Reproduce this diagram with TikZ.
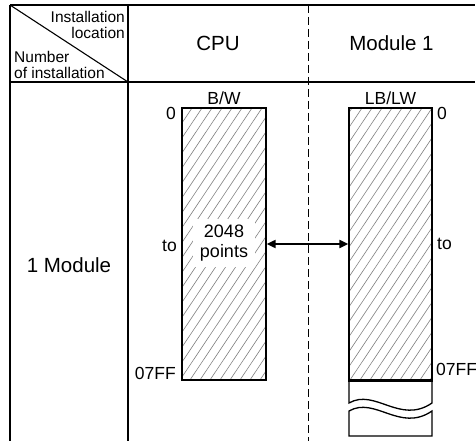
\documentclass[tikz,border=0pt]{standalone}
\usepackage{fontspec}
\setmainfont{Liberation Sans}
\usetikzlibrary{arrows.meta}
\begin{document}
\begin{tikzpicture}[x=1pt,y=-1pt,
  frame/.style={line width=2pt},
  diag/.style={line width=1.1pt},
  divider/.style={line width=1pt,dash pattern=on 8pt off 4pt},
  membox/.style={draw,line width=1.3pt,minimum width=84pt,minimum height=272pt,inner sep=0pt},
  hatch/.style={gray,line width=0.6pt},
  big/.style={inner sep=0pt,font=\fontsize{20.5}{24}\selectfont},
  head/.style={inner sep=0pt,font=\fontsize{15.5}{18}\selectfont},
  lbl/.style={inner sep=0pt,font=\fontsize{17.5}{20}\selectfont},
  dblarrow/.style={line width=2pt,{Triangle[length=9pt,width=8pt]}-{Triangle[length=9pt,width=8pt]}},
  piece/.style={line width=1.3pt}
]
\useasboundingbox (0,0) rectangle (476,441);
% frame
\draw[frame] (10,5) -- (475,5);
\draw[frame] (10,82) -- (475,82);
\draw[frame] (10,5) -- (10,441);
\draw[frame] (128,5) -- (128,441);
\draw[diag] (10,5) -- (128,82);
\draw[divider] (308,5) -- (308,441);
% header texts
\node[head,anchor=base east] (h1) at (125,23) {Installation};
\node[head,anchor=base east] (h2) at (125,39) {location};
\node[head,anchor=base west] (h3) at (14,63) {Number};
\node[head,anchor=base west] (h4) at (14,79) {of installation};
\node[big,anchor=base] (cpuh) at (218,51) {CPU};
\node[big,anchor=base] (modh) at (391.5,51) {Module 1};
\node[big,anchor=base] (rowh) at (69,272) {1 Module};
% memory boxes
\coordinate (cpuc) at (224,244);
\coordinate (modc) at (390.5,244);
\begin{scope}
  \clip (182,108) rectangle (266,380);
  \foreach \x in {-200,-190,...,280} \draw[hatch] (\x,380) -- ++(182,-272);
\end{scope}
\begin{scope}
  \clip (349,108) rectangle (432,380);
  \foreach \x in {-40,-30,...,440} \draw[hatch] (\x,380) -- ++(182,-272);
\end{scope}
\node[membox] (cpu) at (cpuc) {};
\node[membox,minimum width=83pt] (mod) at (modc) {};
\draw[line width=1.8pt] (mod.south west) -- (mod.south east);
% broken continuation
\draw[piece] (349,380) -- (349,403) .. controls (375,388) and (400,425) .. (432,403) -- (432,380);
\draw[piece] (349,436) -- (349,411) .. controls (375,396) and (400,433) .. (432,411) -- (432,436) -- cycle;
% labels
\node[lbl,anchor=base] (bw) at (224,105) {B/W};
\node[lbl,anchor=base] (lblw) at (390.5,105) {LB/LW};
\node[lbl,anchor=base east] (z1) at (176,120) {0};
\node[lbl,anchor=base west] (z2) at (437,120) {0};
\node[lbl,anchor=base east] (t1) at (177,251) {to};
\node[lbl,anchor=base west] (t2) at (437,249) {to};
\node[lbl,anchor=base east] (e1) at (176,379) {07FF};
\node[lbl,anchor=base west] (e2) at (436,375) {07FF};
\node[lbl,fill=white,align=center,inner xsep=7pt,inner ysep=6pt,font=\fontsize{18}{20}\selectfont] (pts) at (224,243) {2048\\points};
% arrow
\draw[dblarrow] (cpu.east) -- (mod.west);
\end{tikzpicture}
\end{document}
